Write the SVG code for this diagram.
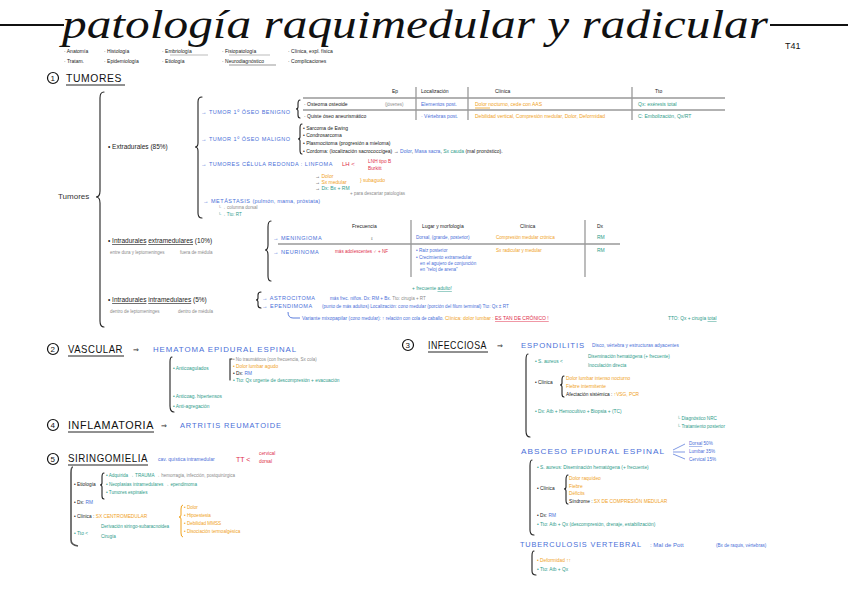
<svg xmlns="http://www.w3.org/2000/svg" width="848" height="599" viewBox="0 0 848 599">
<style>
text{font-family:"Liberation Sans",Arial,sans-serif;}
.t{font-family:"Liberation Serif",serif;font-style:italic;font-size:40px;fill:#111;}
.h{font-size:10.5px;fill:#111;letter-spacing:0.6px;}
.k{font-size:6.5px;fill:#222;}
.s{font-size:5px;fill:#222;}
.g{font-size:4.5px;fill:#8a8a8a;}
.b{fill:#4a6fd8;}
.bl{font-size:7.5px;fill:#4a6fd8;letter-spacing:0.9px;}
.bs{font-size:5.5px;fill:#4a6fd8;letter-spacing:0.5px;}
.tl{fill:#2e9c8a;}
.o{fill:#f0a21e;}
.r{fill:#e0304c;}
.br{fill:none;stroke:#222;stroke-width:1.1;stroke-linecap:round;}
.ln{fill:none;stroke:#999;stroke-width:1.3;}
.ul{stroke:#222;stroke-width:1;}
.cir{fill:none;stroke:#111;stroke-width:1.2;}
</style>

<g id="title">
<line x1="0" y1="25" x2="64" y2="25" stroke="#111" stroke-width="2"/>
<line x1="770" y1="25" x2="848" y2="25" stroke="#111" stroke-width="2"/>
<text class="t" x="62" y="38" textLength="706" lengthAdjust="spacingAndGlyphs">patología raquimedular y radicular</text>
<text x="785" y="49" style="font-size:9px;fill:#111">T41</text>
</g>

<g id="legend">
<text x="64" y="53" class="s">· Anatomía</text>
<text x="104" y="53" class="s">· Histología</text>
<text x="162" y="53" class="s">· Embriología</text>
<text x="222" y="53" class="s">· Fisiopatología</text>
<text x="288" y="53" class="s">· Clínica, expl. física</text>
<text x="64" y="63" class="s">· Tratam.</text>
<text x="104" y="63" class="s">· Epidemiología</text>
<text x="162" y="63" class="s">· Etiología</text>
<text x="222" y="63" class="s">· Neurodiagnóstico</text>
<text x="288" y="63" class="s">· Complicaciones</text>
<line x1="170" y1="55" x2="208" y2="55" stroke="#bbb" stroke-width="1"/>
<line x1="229" y1="55" x2="270" y2="55" stroke="#bbb" stroke-width="1"/>
<line x1="229" y1="65" x2="276" y2="65" stroke="#999" stroke-width="1"/>
</g>

<g id="sec1-header">
<circle class="cir" cx="53" cy="78" r="5.5"/>
<text x="50.5" y="81" style="font-size:8px;fill:#111">1</text>
<text class="h" x="66" y="82" textLength="56" lengthAdjust="spacingAndGlyphs">TUMORES</text>
<line class="ul" x1="66" y1="85" x2="125" y2="85"/>
</g>

<g id="tumores">
<text x="58" y="199" style="font-size:8px;fill:#333">Tumores</text>
<path class="br" d="M104 92 Q100 92 100 98 L100 191 Q100 197 96 197 Q100 197 100 203 L100 321 Q100 327 104 327"/>
</g>

<g id="extradurales">
<text class="k" x="108" y="149">• Extradurales (85%)</text>
<path class="br" d="M202 97 Q198 97 198 102 L198 143 Q198 147 195 147 Q198 147 198 151 L198 213 Q198 218 202 218"/>
<text class="bs" x="201" y="114">→ TUMOR 1º ÓSEO BENIGNO</text>
<path class="br" d="M300 100 Q298 100 298 104 L298 107 Q298 109 296 109 Q298 109 298 111 L298 115 Q298 118 300 118"/>
<text class="bs" x="201" y="141">→ TUMOR 1º ÓSEO MALIGNO</text>
<path class="br" d="M302 124 Q300 124 300 128 L300 137 Q300 139 298 139 Q300 139 300 141 L300 150 Q300 154 302 154"/>
<text class="s" x="303" y="130">• Sarcoma de Ewing</text>
<text class="s" x="303" y="137">• Condrosarcoma</text>
<text class="s" x="303" y="145">• Plasmocitoma (progresión a mieloma)</text>
<text class="s" x="303" y="153">• Cordoma: (localización sacrococcígea) → <tspan class="b">Dolor</tspan>, <tspan class="b">Masa sacra</tspan>, <tspan class="tl">Sx cauda</tspan> (mal pronóstico).</text>
<text class="bs" x="201" y="166">→ TUMORES CÉLULA REDONDA : LINFOMA</text>
<text x="342" y="166" style="font-size:6px" class="r">LH &lt;</text>
<text x="368" y="163" style="font-size:4.8px" class="r">LNH tipo B</text>
<text x="368" y="170" style="font-size:4.8px" class="r">Burkitt</text>
<text class="s" x="315" y="178">→ <tspan class="o">Dolor</tspan></text>
<text class="s" x="315" y="184">→ <tspan class="o">Sx medular</tspan></text>
<text x="360" y="182" style="font-size:5px" class="o">} subagudo</text>
<text class="s" x="315" y="190">→ <tspan class="tl">Dx: Bx + RM</tspan></text>
<text class="g" x="350" y="195">+ para descartar patologías</text>
<text class="bs" x="203" y="203">→ METÁSTASIS <tspan style="letter-spacing:0.2px">(pulmón, mama, próstata)</tspan></text>
<text class="g" x="218" y="209">└→ columna dorsal</text>
<text x="218" y="216" style="font-size:4.5px" class="tl">└→ Tto: RT</text>
</g>

<g id="tabla-benignos">
<line class="ln" x1="303" y1="98" x2="725" y2="98"/>
<line class="ln" x1="303" y1="110" x2="725" y2="110"/>
<line class="ln" x1="416" y1="87" x2="416" y2="120"/>
<line class="ln" x1="468" y1="87" x2="468" y2="120"/>
<line class="ln" x1="632" y1="87" x2="632" y2="120"/>
<text class="s" x="392" y="93">Ep</text>
<text class="s" x="421" y="93">Localización</text>
<text class="s" x="495" y="93">Clínica</text>
<text class="s" x="655" y="93">Tto</text>
<text class="s" x="304" y="106">· Osteoma osteoide</text>
<text class="g" x="385" y="106">(jóvenes)</text>
<text x="421" y="106" style="font-size:5px" class="b">Elementos post.</text>
<text x="475" y="106" style="font-size:5px" class="o">Dolor nocturno, cede con AAS</text>
<line x1="475" y1="108" x2="490" y2="108" stroke="#f0a21e" stroke-width="0.8"/>
<text x="638" y="106" style="font-size:5px" class="tl">Qx: exéresis total</text>
<text class="s" x="304" y="118">· Quiste óseo aneurismático</text>
<text x="421" y="118" style="font-size:5px" class="b">· Vértebras post.</text>
<text x="475" y="118" style="font-size:5px" class="o">Debilidad vertical, Compresión medular, Dolor, Deformidad</text>
<text x="638" y="118" style="font-size:5px" class="tl">C: Embolización, Qx/RT</text>
</g>

<g id="intradurales-extramedulares">
<text class="k" x="108" y="243">• <tspan style="text-decoration:underline">Intradurales</tspan>  <tspan style="text-decoration:underline">extramedulares</tspan> (10%)</text>
<text class="g" x="110" y="254">entre dura y leptomeninges</text>
<text class="g" x="180" y="254">fuera de médula</text>
<path class="br" d="M271 221 Q268 221 268 227 L268 245 Q268 250 265 250 Q268 250 268 255 L268 276 Q268 281 271 281"/>
<text class="bs" x="273" y="240">→ MENINGIOMA</text>
<text class="bs" x="273" y="254">→ NEURINOMA</text>
<line class="ln" x1="278" y1="244" x2="620" y2="244"/>
<line class="ln" x1="411" y1="220" x2="411" y2="277"/>
<line class="ln" x1="585" y1="220" x2="585" y2="277"/>
<text class="s" x="352" y="228">Frecuencia</text>
<text class="s" x="422" y="228">Lugar y morfología</text>
<text class="s" x="520" y="228">Clínica</text>
<text class="s" x="597" y="228">Dx</text>
<text class="s" x="370" y="240">♀</text>
<text x="416" y="239" style="font-size:4.6px" class="b">Dorsal, (grande, posterior)</text>
<text x="496" y="239" style="font-size:4.6px" class="o">Compresión medular crónica</text>
<text x="597" y="239" style="font-size:5px" class="tl">RM</text>
<text x="335" y="253" style="font-size:4.6px" class="r">más adolescentes ♂ + NF</text>
<text x="416" y="252" style="font-size:4.6px" class="b">• Raíz posterior</text>
<text x="416" y="259" style="font-size:4.6px" class="b">• Crecimiento extramedular</text>
<text x="420" y="265" style="font-size:4.6px" class="b">en el agujero de conjunción</text>
<text x="420" y="271" style="font-size:4.6px" class="b">en "reloj de arena"</text>
<text x="496" y="252" style="font-size:4.6px" class="o">Sx radicular y medular</text>
<text x="597" y="252" style="font-size:5px" class="tl">RM</text>
</g>

<g id="intradurales-intramedulares">
<text class="k" x="108" y="302">• <tspan style="text-decoration:underline">Intradurales</tspan>  <tspan style="text-decoration:underline">intramedulares</tspan> (5%)</text>
<text class="g" x="110" y="313">dentro de leptomeninges</text>
<text class="g" x="178" y="313">dentro de médula</text>
<path class="br" d="M261 292 Q258 292 258 295 L258 298 Q258 300 256 300 Q258 300 258 302 L258 305 Q258 308 261 308"/>
<text class="bs" x="262" y="300">→ ASTROCITOMA</text>
<text x="330" y="300" style="font-size:4.6px" class="b">más frec. niños. Dx: RM + Bx. <tspan class="g">Tto: cirugía + RT</tspan></text>
<text class="bs" x="262" y="308">→ EPENDIMOMA</text>
<text x="322" y="308" style="font-size:4.6px" class="b">(punto de más adultos) Localización: cono medular (porción del filum terminal)  Tto: Qx ± RT</text>
<text x="412" y="290" style="font-size:4.8px" class="tl">+ frecuente <tspan style="text-decoration:underline">adulto!</tspan></text>
<path d="M288 312 Q288 318 293 318 L300 318" fill="none" stroke="#4a6fd8" stroke-width="0.9"/>
<text x="302" y="320" style="font-size:5px" class="b">Variante mixopapilar <tspan style="font-size:4.6px">(cono medular): ↑ relación con cola de caballo.</tspan> <tspan class="o">Clínica: dolor lumbar :</tspan> <tspan class="r" style="text-decoration:underline">ES TAN DE CRÓNICO !</tspan></text>
<text x="668" y="320" style="font-size:4.8px" class="tl">TTO: Qx + cirugía <tspan style="text-decoration:underline">total</tspan></text>
</g>

<g id="sec2-vascular">
<circle class="cir" cx="53" cy="349" r="5.5"/>
<text x="50.5" y="352" style="font-size:8px;fill:#111">2</text>
<text class="h" x="68" y="353" textLength="55" lengthAdjust="spacingAndGlyphs">VASCULAR</text>
<line class="ul" x1="68" y1="356" x2="124" y2="356"/>
<text x="133" y="352" style="font-size:7px;fill:#222">⇒</text>
<text class="bl" x="153" y="352" textLength="144" lengthAdjust="spacingAndGlyphs">HEMATOMA EPIDURAL ESPINAL</text>
<path class="br" d="M172 357 Q170 357 170 362 L170 406 Q170 412 174 412"/>
<text x="173" y="370" style="font-size:4.8px" class="tl">• Anticoagulados</text>
<path class="br" d="M232 359 L230 359 L230 380"/>
<text class="g" x="233" y="361">• No traumáticos (con frecuencia, Sx cola)</text>
<text x="233" y="368" style="font-size:4.8px" class="o">• Dolor lumbar agudo</text>
<text x="233" y="375" style="font-size:4.8px;fill:#222">• Dx: <tspan class="b">RM</tspan></text>
<text x="233" y="382" style="font-size:4.8px" class="tl">• Tto: Qx urgente de descompresión + evacuación</text>
<text x="173" y="398" style="font-size:4.8px" class="tl">• Anticoag. hipertensos</text>
<text x="173" y="408" style="font-size:4.8px" class="tl">• Anti-agregación</text>
</g>

<g id="sec4-inflamatoria">
<circle class="cir" cx="53" cy="425" r="5.5"/>
<text x="50.5" y="428" style="font-size:8px;fill:#111">4</text>
<text class="h" x="68" y="429" textLength="86" lengthAdjust="spacingAndGlyphs">INFLAMATORIA</text>
<line class="ul" x1="68" y1="432" x2="154" y2="432"/>
<text x="161" y="428" style="font-size:7px;fill:#222">⇒</text>
<text class="bl" x="180" y="428" textLength="102" lengthAdjust="spacingAndGlyphs">ARTRITIS REUMATOIDE</text>
</g>

<g id="sec5-siringomielia">
<circle class="cir" cx="53" cy="459" r="5.5"/>
<text x="50.5" y="462" style="font-size:8px;fill:#111">5</text>
<text class="h" x="68" y="462" textLength="80" lengthAdjust="spacingAndGlyphs">SIRINGOMIELIA</text>
<line class="ul" x1="68" y1="465" x2="148" y2="465"/>
<text x="158" y="461" style="font-size:5px" class="b">cav. quística intramedular</text>
<text x="236" y="462" style="font-size:7px" class="r">TT &lt;</text>
<text x="259" y="455" style="font-size:4.8px" class="r">cervical</text>
<text x="259" y="463" style="font-size:4.8px" class="r">dorsal</text>
<path d="M73 467 Q71 467 71 473 L71 540 Q71 545 78 546" fill="none" stroke="#555" stroke-width="1.6"/>
<text x="74" y="486" style="font-size:4.8px;fill:#222">• Etiología</text>
<path class="br" d="M104 473 Q102 473 102 477 L102 483 Q102 485 100 485 Q102 485 102 487 L102 496 Q102 499 104 499"/>
<text x="106" y="477" style="font-size:4.6px" class="tl">• Adquirida → TRAUMA <tspan class="g">→ hemorragia, infección, postquirúrgica</tspan></text>
<text x="106" y="486" style="font-size:4.6px" class="tl">• Neoplasias intramedulares → ependimoma</text>
<text x="106" y="494" style="font-size:4.6px" class="tl">• Tumores espinales</text>
<text x="74" y="504" style="font-size:4.8px;fill:#222">• Dx: <tspan class="b">RM</tspan></text>
<text x="74" y="518" style="font-size:4.8px;fill:#222">• Clínica :  <tspan class="o">SX CENTROMEDULAR</tspan></text>
<path d="M183 505 Q181 505 181 509 L181 515 Q181 517 179 517 Q181 517 181 519 L181 533 Q181 537 183 537" fill="none" stroke="#f0a21e" stroke-width="1"/>
<text x="184" y="509" style="font-size:4.6px" class="o">• Dolor</text>
<text x="184" y="517" style="font-size:4.6px" class="o">• Hipoestesia</text>
<text x="184" y="525" style="font-size:4.6px" class="o">• Debilidad MMSS</text>
<text x="184" y="533" style="font-size:4.6px" class="o">• Disociación termoalgésica</text>
<text x="74" y="535" style="font-size:4.8px" class="tl">• Tto  &lt;</text>
<text x="101" y="528" style="font-size:4.6px" class="tl">Derivación siringo-subaracnoidea</text>
<text x="101" y="538" style="font-size:4.6px" class="tl">Cirugía</text>
</g>

<g id="sec3-infecciosa">
<circle class="cir" cx="408" cy="345" r="5.5"/>
<text x="405.5" y="348" style="font-size:8px;fill:#111">3</text>
<text class="h" x="428" y="349" textLength="59" lengthAdjust="spacingAndGlyphs">INFECCIOSA</text>
<line class="ul" x1="428" y1="352" x2="488" y2="352"/>
<text x="497" y="348" style="font-size:7px;fill:#222">⇒</text>
<text class="bl" x="521" y="348" textLength="64" lengthAdjust="spacingAndGlyphs">ESPONDILITIS</text>
<text x="592" y="347" style="font-size:4.8px" class="b">Disco, vértebra y estructuras adyacentes</text>
<path class="br" d="M528 354 Q526 354 526 360 L526 431 Q526 437 530 437"/>
<text x="535" y="363" style="font-size:4.8px" class="tl">• S. aureus &lt;</text>
<text x="588" y="358" style="font-size:4.6px" class="tl">Diseminación hematógena (+ frecuente)</text>
<text x="588" y="367" style="font-size:4.6px" class="tl">Inoculación directa</text>
<text x="535" y="384" style="font-size:4.8px;fill:#222">• Clínica</text>
<path class="br" d="M564 376 Q562 376 562 380 L562 383 Q562 385 560 385 Q562 385 562 387 L562 394 Q562 397 564 397"/>
<text x="566" y="380" style="font-size:4.8px" class="o">Dolor lumbar intenso nocturno</text>
<text x="566" y="388" style="font-size:4.8px" class="o">Fiebre intermitente</text>
<text x="566" y="396" style="font-size:4.8px;fill:#222">Afectación sistémica : <tspan class="o">↑VSG, PCR</tspan></text>
<text x="535" y="413" style="font-size:4.8px" class="tl">• Dx: Atb + Hemocultivo + Biopsia  + (TC)</text>
<text x="677" y="420" style="font-size:4.6px" class="tl">└ Diagnóstico NRC</text>
<text x="677" y="428" style="font-size:4.6px" class="tl">└ Tratamiento posterior</text>

<text class="bl" x="521" y="454" textLength="144" lengthAdjust="spacingAndGlyphs">ABSCESO EPIDURAL ESPINAL</text>
<path d="M673 450 L685 444 M673 452 L685 452 M673 454 L685 459" stroke="#4a6fd8" stroke-width="0.7" fill="none"/>
<text x="689" y="445" style="font-size:4.6px" class="b"><tspan style="text-decoration:underline">Dorsal</tspan>  50%</text>
<text x="689" y="453" style="font-size:4.6px" class="b">Lumbar  35%</text>
<text x="689" y="461" style="font-size:4.6px" class="b">Cervical  15%</text>
<path class="br" d="M532 460 Q530 460 530 466 L530 530 Q530 535 534 535"/>
<text x="537" y="469" style="font-size:4.8px" class="tl">• S. aureus: Diseminación hematógena (+ frecuente)</text>
<text x="537" y="490" style="font-size:4.8px;fill:#222">• Clínica</text>
<path class="br" d="M568 475 Q566 475 566 480 L566 487 Q566 489 564 489 Q566 489 566 491 L566 500 Q566 504 568 504"/>
<text x="569" y="480" style="font-size:4.8px" class="o">Dolor raquídeo</text>
<text x="569" y="488" style="font-size:4.8px" class="o">Fiebre</text>
<text x="569" y="495" style="font-size:4.8px" class="o">Déficits</text>
<text x="569" y="503" style="font-size:4.8px;fill:#222">Síndrome : <tspan class="o">SX DE COMPRESIÓN MEDULAR</tspan></text>
<text x="537" y="517" style="font-size:4.8px;fill:#222">• Dx: <tspan class="b">RM</tspan></text>
<text x="537" y="526" style="font-size:4.8px" class="tl">• Tto: Atb + Qx (descompresión, drenaje, estabilización)</text>

<text class="bl" x="520" y="547" textLength="122" lengthAdjust="spacingAndGlyphs">TUBERCULOSIS VERTEBRAL</text>
<text x="650" y="547" style="font-size:6px" class="b">: Mal de Pott</text>
<text x="716" y="547" style="font-size:4.6px" class="b">(Bx de raquis, vértebras)</text>
<path class="br" d="M534 551 Q532 551 532 556 L532 571 Q532 575 536 575"/>
<text x="537" y="562" style="font-size:4.8px" class="o">• Deformidad ↑↑</text>
<text x="537" y="571" style="font-size:4.8px" class="tl">• Tto: Atb + Qx</text>
</g>
</svg>
